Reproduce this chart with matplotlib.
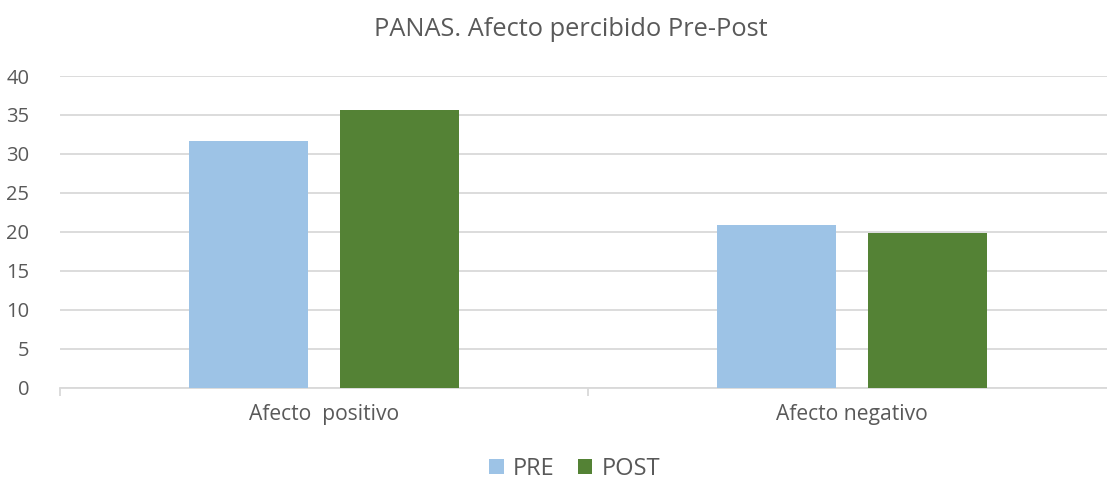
import matplotlib
matplotlib.use("Agg")
import matplotlib.pyplot as plt
import numpy as np

categories = ["Afecto  positivo", "Afecto negativo"]
pre_values = [31.7, 20.9]
post_values = [35.6, 19.8]
series_names = ["PRE", "POST"]
yticks = [0, 5, 10, 15, 20, 25, 30, 35, 40]

plt.rcParams['font.family'] = ['Open Sans', 'DejaVu Sans']
text_color = '#595959'
grid_color = '#D9D9D9'

fig = plt.figure(figsize=(11.07, 4.82), dpi=100)
ax = fig.add_axes([60/1107, 94.3/482, 1056/1107, 311.7/482])

x = np.arange(len(categories))
w = 0.224
off = 0.143
ax.bar(x - off, pre_values, width=w, color='#9DC3E6', label=series_names[0], zorder=3)
ax.bar(x + off, post_values, width=w, color='#548235', label=series_names[1], zorder=3)

ax.set_xlim(-0.5, len(categories) - 0.5)
ax.set_ylim(0, 40)
ax.set_yticks(yticks)
ax.yaxis.grid(True, color=grid_color, linewidth=1.3, zorder=0)
ax.set_axisbelow(True)
for s in ['top', 'right', 'left']:
    ax.spines[s].set_visible(False)
ax.spines['bottom'].set_color(grid_color)
ax.spines['bottom'].set_linewidth(1.3)

ax.set_xticks(x)
ax.set_xticklabels(categories, fontsize=15.2, color=text_color)
ax.set_xticks(np.arange(-0.5, len(categories), 1.0), minor=True)
ax.tick_params(axis='x', which='major', length=0, pad=12)
ax.tick_params(axis='x', which='minor', length=6, color=grid_color, width=1.3)
ax.tick_params(axis='y', length=0, labelsize=14.5, labelcolor=text_color, pad=22)
for lbl in ax.get_yticklabels():
    lbl.set_horizontalalignment('right')

fig.text(571/1107, 1 - 30/482, "PANAS. Afecto percibido Pre-Post", ha='center', va='center',
         fontsize=18.3, color=text_color)

fig.legend(loc='center', bbox_to_anchor=(575/1107, 1 - 469/482), ncol=2, frameon=False,
           fontsize=17, labelcolor=text_color, handlelength=0.6, handleheight=0.6,
           handletextpad=0.4, columnspacing=1.0)

fig.savefig("out.png", dpi=100)
